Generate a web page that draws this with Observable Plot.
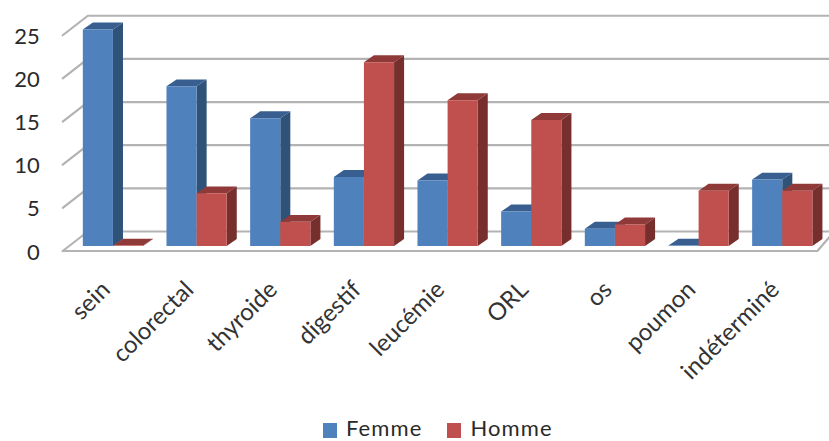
<!DOCTYPE html>
<html>
<head>
<meta charset="utf-8">
<script src="https://cdn.jsdelivr.net/npm/d3@7"></script>
<script src="https://cdn.jsdelivr.net/npm/@observablehq/plot@0.6"></script>
<style>
  html, body { margin: 0; padding: 0; background: #fff; overflow: hidden; }
  body { width: 829px; height: 441px; position: relative; font-family: Lato, sans-serif; color: #2a2a2a; }
  #legend { position: absolute; left: 323px; top: 415px; height: 26px; line-height: 26px; display: flex; align-items: center; font-size: 22px; letter-spacing: 1.1px; }
  #legend i { width: 14px; height: 15px; display: inline-block; margin-right: 9px; position: relative; top: 2px; }
  #legend span { display: inline-flex; align-items: center; margin-right: 25px; }
  svg { display: block; }
</style>
</head>
<body>
<div id="chart"></div>
<div id="legend"></div>
<script>
const categories = ["sein", "colorectal", "thyroide", "digestif", "leucémie", "ORL", "os", "poumon", "indéterminé"];
const femme = [25.1, 18.5, 14.8, 8, 7.6, 4, 2, 0.05, 7.7];
const homme = [0.05, 6.1, 2.8, 21.3, 16.9, 14.6, 2.5, 6.4, 6.4];
const yTicks = [0, 5, 10, 15, 20, 25];

const palette = {
  Femme: {front: "#4f81bd", side: "#2f5279", top: "#385f8f"},
  Homme: {front: "#c0504d", side: "#772f2d", top: "#8f3a38"}
};

// Extrusion of each bar and of the chart walls, in data units.
const barW = 0.36, depthX = 0.12, depthY = 0.8;
const wallFrontX = -0.6, wallBackX = -0.3, wallFrontY = -0.58, wallBackY = 1.68, floorRight = 8.42, wallRight = 8.62;

const faces = [];
const addFace = (id, color, corners) => corners.forEach(([x, y]) => faces.push({id, color, x, y}));
categories.forEach((_, i) => {
  [["Femme", femme[i], i - barW], ["Homme", homme[i], i]].forEach(([name, v, x0]) => {
    const x1 = x0 + barW, c = palette[name], key = `${name}-${i}`;
    addFace(key + "-side", c.side, [[x1, 0], [x1 + depthX, depthY], [x1 + depthX, v + depthY], [x1, v]]);
    addFace(key + "-top", c.top, [[x0, v], [x0 + depthX, v + depthY], [x1 + depthX, v + depthY], [x1, v]]);
    addFace(key + "-front", c.front, [[x0, 0], [x0, v], [x1, v], [x1, 0]]);
  });
});

// Gridlines run up the left wall, then along the back wall.
const grid = yTicks.flatMap(t => [
  {t, x: wallFrontX, y: t + wallFrontY},
  {t, x: wallBackX, y: t + wallBackY},
  {t, x: wallRight + 0.3, y: t + wallBackY}
]);
const floor = [
  {x: wallFrontX, y: wallFrontY},
  {x: floorRight, y: wallFrontY},
  {x: wallRight, y: wallBackY}
];

const plot = Plot.plot({
  width: 829,
  height: 415,
  margin: 0,
  x: {type: "linear", domain: [-0.5, 8.5], range: [70.6, 823.6], axis: null},
  y: {type: "linear", domain: [0, 25], range: [245.5, 29.75], axis: null},
  color: {type: "identity"},
  style: {fontFamily: "Lato, sans-serif", background: "#fff", overflow: "hidden"},
  marks: [
    Plot.line(grid, {x: "x", y: "y", z: "t", stroke: "#b3b3b3", strokeWidth: 2.2}),
    Plot.line(floor, {x: "x", y: "y", stroke: "#b3b3b3", strokeWidth: 2.2}),
    Plot.line(faces, {x: "x", y: "y", z: "id", fill: "color", stroke: null}),
    Plot.text(yTicks, {
      x: () => wallFrontX, y: d => d, text: d => String(d),
      textAnchor: "end", dx: -23, dy: 6.5, fontSize: 22, fill: "#2a2a2a"
    }),
    Plot.text(categories, {
      x: (_, i) => i, y: () => -4.6, text: d => d,
      rotate: -45, textAnchor: "end", dx: -7, fontSize: 24, fill: "#333"
    })
  ]
});
document.getElementById("chart").append(plot);

const legend = document.getElementById("legend");
Object.entries(palette).forEach(([name, c]) => {
  const item = document.createElement("span");
  const swatch = document.createElement("i");
  swatch.style.background = c.front;
  item.append(swatch, name);
  legend.append(item);
});
</script>
</body>
</html>
